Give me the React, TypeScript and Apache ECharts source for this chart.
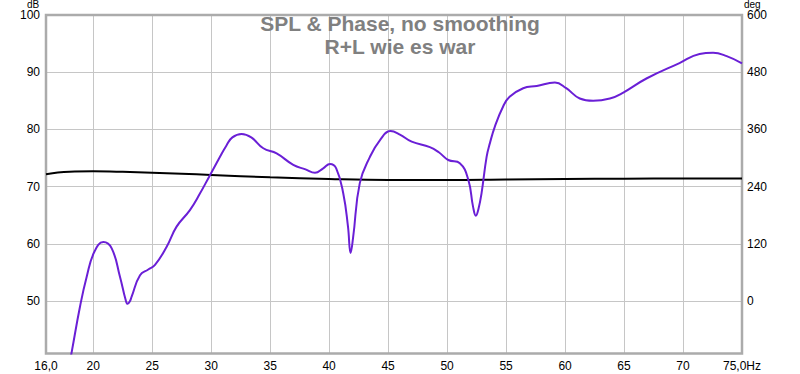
import React, { useEffect, useRef } from "react";
import * as echarts from "echarts";

// SPL (purple), frequency in Hz and level in dB
const splFreq = [
  17.85, 18.18, 18.88, 19.45, 20.1, 20.86, 21.57, 22.27, 22.75, 22.92, 23.1, 23.26,
  23.97, 24.67, 25.24, 26.23, 27.07, 28.2, 29.0, 29.9, 30.75, 31.3, 31.8, 32.58,
  33.4, 34.42, 35.55, 36.96, 38.0, 38.8, 39.5, 40.07, 40.6, 41.2, 41.6, 41.82,
  42.04, 42.6, 43.46, 44.3, 45.2, 46.0, 47.0, 48.54, 49.3, 50.1, 51.08, 51.8,
  52.2, 52.44, 52.65, 52.92, 53.35, 53.63, 54.05, 54.75, 55.3, 56.45, 57.6, 59.14,
  60.1, 61.25, 62.38, 63.8, 64.9, 66.9, 69.7, 71.4, 72.55, 73.7, 75.0,
];
const splDb = [
  37.5, 41.1, 49.0, 54.25, 58.6, 60.3, 59.2, 54.25, 50.2, 49.5, 49.9, 50.75,
  54.5, 55.5, 56.3, 59.5, 63.0, 65.9, 68.6, 72.0, 75.2, 77.2, 78.6, 79.2,
  78.6, 76.7, 75.8, 73.8, 73.0, 72.4, 73.2, 73.95, 73.2, 68.8, 63.0, 58.4,
  61.2, 70.6, 75.2, 78.1, 79.7, 79.1, 77.85, 76.9, 76.0, 74.65, 74.1, 71.2,
  66.5, 64.9, 66.0, 68.8, 75.2, 77.6, 80.5, 84.0, 85.7, 87.2, 87.6, 88.2,
  87.2, 85.4, 85.0, 85.4, 86.4, 88.9, 91.6, 93.2, 93.4, 92.8, 91.55,
];

// Phase (black), frequency in Hz and phase in degrees
const phaseFreq = [16, 17, 18, 20, 22.5, 25, 27.5, 30, 35, 40, 45, 50, 55, 60, 65, 70, 75];
const phaseDeg = [266, 269.5, 271.3, 272, 271, 269.2, 267, 264.5, 259.5, 256, 254, 254, 255, 256, 256.5, 257, 257];

// Tick values
const dbTicks = [50, 60, 70, 80, 90, 100];
const degTicks = [0, 120, 240, 360, 480, 600];
const freqMin = 16;
const freqMax = 75;

const titleLines = ["SPL & Phase, no smoothing", "R+L wie es war"];

const DB_MIN = 40.82;
const DB_MAX = 100;
const DEG_MIN = (DB_MIN - 50) * 12;
const DEG_MAX = 600;

const FONT = "'Liberation Sans', Arial, sans-serif";

export default function App() {
  const ref = useRef<HTMLDivElement>(null);

  useEffect(() => {
    if (!ref.current) return;
    const chart = echarts.init(ref.current, undefined, { renderer: "svg" });
    const splData = splFreq.map((f, i) => [f, splDb[i]]);
    const phaseData = phaseFreq.map((f, i) => [f, phaseDeg[i]]);

    const titleStyle = {
      fontFamily: FONT,
      fontSize: 21,
      fontWeight: "bold",
      fill: "#808080",
      align: "center",
      verticalAlign: "top",
    };
    const unitStyle = {
      fontFamily: FONT,
      fontSize: 10,
      lineHeight: 9,
      fill: "#000",
      verticalAlign: "top",
    };

    chart.setOption({
      animation: false,
      backgroundColor: "#ffffff",
      grid: {
        left: 46,
        right: 58,
        top: 15,
        bottom: 20.5,
        show: true,
        borderColor: "#ababab",
        borderWidth: 2.5,
        backgroundColor: "transparent",
        z: 3,
      },
      xAxis: {
        type: "value",
        min: freqMin,
        max: freqMax,
        splitNumber: 12,
        minInterval: 5,
        maxInterval: 5,
        axisLine: { show: false },
        axisTick: { show: false },
        splitLine: { show: true, lineStyle: { color: "#c6c6c6", width: 1 } },
        axisLabel: {
          margin: 6,
          fontFamily: FONT,
          fontSize: 12,
          color: "#000",
          showMinLabel: true,
          showMaxLabel: true,
          formatter: (v: number) => {
            if (Math.abs(v - freqMin) < 1e-6) return "16,0";
            if (Math.abs(v - freqMax) < 1e-6) return "75,0Hz";
            return String(Math.round(v));
          },
        },
      },
      yAxis: [
        {
          type: "value",
          min: DB_MIN,
          max: DB_MAX,
          splitNumber: 6,
          minInterval: 10,
          maxInterval: 10,
          axisLine: { show: false },
          axisTick: { show: false },
          splitLine: { show: true, lineStyle: { color: "#c6c6c6", width: 1 } },
          axisLabel: {
            margin: 6,
            fontFamily: FONT,
            fontSize: 12,
            lineHeight: 11,
            color: "#000",
            showMinLabel: false,
            formatter: (v: number) => (dbTicks.some((t) => Math.abs(t - v) < 1e-6) ? String(Math.round(v)) : ""),
          },
        },
        {
          type: "value",
          position: "right",
          min: DEG_MIN,
          max: DEG_MAX,
          splitNumber: 6,
          minInterval: 120,
          maxInterval: 120,
          axisLine: { show: false },
          axisTick: { show: false },
          splitLine: { show: false },
          axisLabel: {
            margin: 5,
            fontFamily: FONT,
            fontSize: 12,
            lineHeight: 11,
            color: "#000",
            showMinLabel: false,
            formatter: (v: number) => (degTicks.some((t) => Math.abs(t - v) < 1e-6) ? String(Math.round(v)) : ""),
          },
        },
      ],
      graphic: [
        {
          type: "text",
          x: 400,
          y: 13,
          z: 10,
          style: { ...titleStyle, text: titleLines[0] },
        },
        {
          type: "text",
          x: 400,
          y: 36,
          z: 10,
          style: { ...titleStyle, text: titleLines[1] },
        },
        {
          type: "text",
          x: 27,
          y: 0,
          style: { ...unitStyle, text: "dB" },
        },
        {
          type: "text",
          x: 744,
          y: 0,
          style: { ...unitStyle, text: "deg" },
        },
      ],
      series: [
        {
          name: "Phase",
          type: "line",
          yAxisIndex: 1,
          data: phaseData,
          smooth: 0.4,
          showSymbol: false,
          lineStyle: { color: "#000000", width: 2 },
          clip: true,
          z: 4,
        },
        {
          name: "SPL",
          type: "line",
          yAxisIndex: 0,
          data: splData,
          smooth: 0.45,
          showSymbol: false,
          lineStyle: { color: "#6a1fd6", width: 2 },
          clip: true,
          z: 5,
        },
      ],
    });

    return () => chart.dispose();
  }, []);

  return <div ref={ref} style={{ width: 800, height: 374, position: "fixed", left: 0, top: 0 }} />;
}
